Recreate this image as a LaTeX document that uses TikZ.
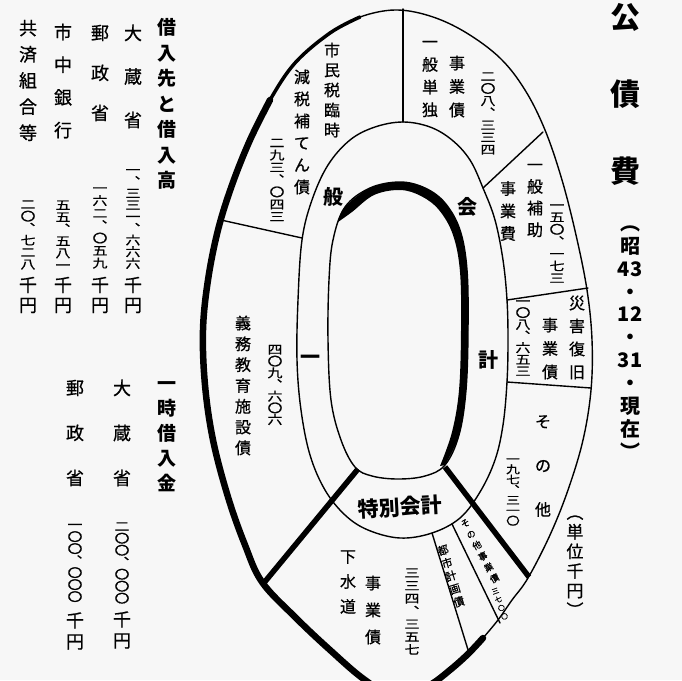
\documentclass[tikz,border=0pt]{standalone}
\usepackage{fontspec}
\usepackage{tikz}
\newfontfamily\jp[FakeBold=0.8]{Noto Sans CJK JP}
\newfontfamily\jpb{Noto Sans CJK JP}
\newfontfamily\jpnum[FakeStretch=1.25, FakeBold=0.8]{Noto Sans CJK JP}

\tikzset{
  txt/.style 2 args={inner sep=0pt, align=center, font=\jp\fontsize{#1}{#2}\selectfont},
  num/.style 2 args={inner sep=0pt, align=center, font=\jpnum\fontsize{#1}{#2}\selectfont},
  hd/.style 2 args={inner sep=0pt, align=center, font=\jpb\bfseries\fontsize{#1}{#2}\selectfont},
  rim/.style={line width=1.4pt},
}

\begin{document}
\begin{tikzpicture}[x=1pt, y=-1pt, line join=round, line cap=round]
        \useasboundingbox (0,0) rectangle (682,680);
        \fill[black!3] (0,0) rectangle (682,680);
        \clip (0,0) rectangle (682,680);

        % outer rim
        \draw[rim] plot[smooth, tension=0.6] coordinates {(330,33) (360,17) (395,10) (430,16) (465,32) (500,58) (525,90) (545,130) (562,180) (576,235) (587,290) (592,340) (591,390) (583,440) (568,490) (550,535) (528,578) (512,600) (498,620) (483,638)};
        \draw[line width=6.5pt] plot[smooth, tension=0.6] coordinates {(483,638) (468,654) (450,670) (430,685) (400,700) (365,680) (330,650) (295,617) (262,582) (245,545) (228,497) (213,440) (205,385) (203,330) (208,280) (218,230) (232,185) (250,140) (270,100)};
        \draw[line width=3.5pt] plot[smooth, tension=0.6] coordinates {(250,140) (270,100) (295,63) (330,33) (360,17)};

        % middle rim
        \draw[rim] plot[smooth cycle, tension=0.6] coordinates {(403,122) (430,127) (452,140) (470,160) (483,188) (495,220) (503,260) (507,300) (508,340) (507,382) (503,425) (495,460) (480,492) (460,518) (432,533) (400,538) (368,530) (345,515) (325,490) (310,455) (301,410) (297,360) (298,300) (302,240) (312,200) (328,165) (350,140) (375,127)};

        % inner rim
        \draw[rim] plot[smooth cycle, tension=0.6] coordinates {(400,182) (425,188) (445,203) (460,230) (467,270) (468,330) (466,390) (459,435) (445,465) (425,476) (398,479) (372,476) (355,467) (341,440) (331,400) (328,340) (329,280) (333,240) (345,207) (370,188)};
        \fill plot[smooth, tension=0.6] coordinates {(338,222) (345,207) (370,188) (400,182) (425,188) (445,203) (460,230) (467,270) (468,330) (466,390) (459,435) (445,465)}
          -- plot[smooth, tension=0.6] coordinates {(440,466) (452,432) (459,390) (461,330) (460,272) (453,235) (439,210) (421,196) (400,190) (374,195) (352,212) (338,222)} -- cycle;

        % section lines
        \draw[rim] (403,122) -- (403,9);
        \draw[rim] (483,188) -- (543,132);
        \draw[rim] (507,300) -- (588,288);
        \draw[rim] (507,382) -- (591,388);
        \draw[rim] (302,238) -- (221,220);
        \draw[line width=5.5pt, line cap=butt] (445,467) -- (529,577); % tokubetsu right
        \draw[line width=5.5pt, line cap=butt] (358,469) -- (263,584); % tokubetsu left
        \draw[rim] (432,533) -- (469,653);
        \draw[rim] (452,524) -- (500,623);

        % kariiresaki
        \node[hd={19}{25.5}] (kariire) at (167,104) {借\\入\\先\\と\\借\\入\\高};
        \node[txt={18}{43.5}] (okura) at (133,76.5) {大\\蔵\\省};
        \node[num={12}{11.7}] (okuranum) at (133,219) {一\\︑\\三\\三\\一\\︑\\六\\六\\六};
        \node[txt={18}{20}] (okuraen) at (133,295) {千\\円};
        \node[txt={18}{40}] (yusei) at (100,73) {郵\\政\\省};
        \node[num={12}{12.5}] (yuseinum) at (100,228) {一\\六\\二\\︑\\〇\\五\\九};
        \node[txt={18}{20}] (yuseien) at (100,295) {千\\円};
        \node[txt={18}{32.7}] (shichu) at (63,81) {市\\中\\銀\\行};
        \node[num={12}{12}] (shichunum) at (63,235) {五\\五\\︑\\五\\八\\一};
        \node[txt={18}{20}] (shichuen) at (63,295) {千\\円};
        \node[txt={18}{26.2}] (kyosai) at (28,80.5) {共\\済\\組\\合\\等};
        \node[num={12}{12}] (kyosainum) at (28,235) {二\\〇\\︑\\七\\二\\八};
        \node[txt={18}{20}] (kyosaien) at (28,295) {千\\円};

        % ichiji kariirekin
        \node[hd={19}{25}] (ichiji) at (167,437) {一\\時\\借\\入\\金};
        \node[txt={18}{45}] (okura2) at (122,433) {大\\蔵\\省};
        \node[num={12}{12}] (okura2num) at (122,563) {二\\〇\\〇\\︑\\〇\\〇\\〇};
        \node[txt={18}{21}] (okura2en) at (122,630) {千\\円};
        \node[txt={18}{45}] (yusei2) at (75,433) {郵\\政\\省};
        \node[num={12}{12}] (yusei2num) at (75,563) {一\\〇\\〇\\︑\\〇\\〇\\〇};
        \node[txt={18}{21}] (yusei2en) at (75,631) {千\\円};

        % title
        \node[hd={30}{77}] (kosaihi) at (625,94) {公\\債\\費};
        \node[hd={20}{22.9}] (date) at (630,342.5) {︵\\昭\\43\\・\\12\\・\\31\\・\\現\\在\\︶};
        \node[txt={17}{19.6}] (tani) at (575,566) {︵\\単\\位\\千\\円\\︶};

        % ippan kaikei
        \node[txt={16}{20}] (shimin) at (332,90) {市\\民\\税\\臨\\時};
        \node[txt={16}{22}] (genzei) at (302,132) {減\\税\\補\\て\\ん\\債};
        \node[num={12}{12.3}] (genzeinum) at (277,180) {二\\九\\三\\︑\\〇\\四\\三};
        \node[txt={16}{22.7}] (tandoku) at (430,79) {一\\般\\単\\独};
        \node[txt={16}{23.5}] (jigyo1) at (457,86.5) {事\\業\\債};
        \node[num={12}{12.2}] (tandokunum) at (488,113.5) {二\\〇\\八\\︑\\三\\三\\四};
        \node[txt={16}{21.7}] (hojo) at (535,200.5) {一\\般\\補\\助};
        \node[txt={16}{22.5}] (jigyohi) at (508,211) {事\\業\\費};
        \node[num={12}{12.2}] (hojonum) at (557,243.5) {一\\五\\〇\\︑\\一\\七\\三};
        \node[txt={16}{23}] (saigai) at (577,337.5) {災\\害\\復\\旧};
        \node[txt={16}{23.5}] (jigyo2) at (550,348.5) {事\\業\\債};
        \node[num={12}{11.7}] (saigainum) at (523,338) {一\\〇\\八\\︑\\六\\五\\三};
        \node[txt={16}{44}] (sonota) at (543,466) {そ\\の\\他};
        \node[num={11}{10.3}] (sonotanum) at (513,492) {一\\九\\七\\︑\\三\\一\\〇};
        \node[txt={16}{20.8}] (gimu) at (243,385.5) {義\\務\\教\\育\\施\\設\\債};
        \node[num={12}{11.7}] (gimunum) at (275,385) {四\\〇\\九\\︑\\六\\〇\\六};
        \node[hd={20}{20}] (ik1) at (310,360) {一};
        \node[hd={20}{20}] (ik2) at (333,197) {般};
        \node[hd={20}{20}] (ik3) at (467,207) {会};
        \node[hd={20}{20}] (ik4) at (488,360) {計};

        % tokubetsu kaikei
        \node[hd={21}{21}, rotate=3] (tokubetsu) at (400,507) {特別会計};
        \node[txt={16}{25}] (gesui) at (348,582) {下\\水\\道};
        \node[txt={16}{27}] (jigyo3) at (373,610) {事\\業\\債};
        \node[num={12}{12.8}] (gesuinum) at (412,611.5) {三\\三\\四\\︑\\三\\五\\七};
        \node[txt={11}{13.5}, rotate=17] (toshi) at (451,576) {都\\市\\計\\画\\債};
        \node[txt={9}{12.5}, rotate=28] (sonota2) at (480,551) {そ\\の\\他\\事\\業\\債};
        \node[txt={7}{9}, rotate=20] (sonota2num) at (500,604) {三\\七\\〇\\〇};
    \end{tikzpicture}
\end{document}
